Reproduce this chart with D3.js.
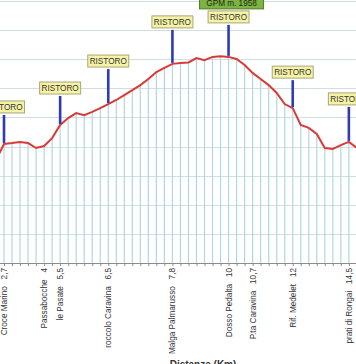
<!DOCTYPE html>
<html><head><meta charset="utf-8">
<script src="https://cdn.jsdelivr.net/npm/d3@7"></script>
<style>
html,body{margin:0;padding:0;background:#fff;}
svg{display:block;font-family:"Liberation Sans",Arial,sans-serif;}
</style></head>
<body><svg id="c" width="356" height="364"></svg>
<script>
// ---- data ----
// elevation (m) of each profile point, from the point just left of Croce Marino to the one after prati di Rongai
const elevation = [1604,1659,1662,1666,1662,1645,1652,1679,1724,1748,1765,1758,1769,1782,1796,1810,1827,1844,1861,1882,1906,1920,1934,1937,1939,1954,1947,1958,1960,1958,1951,1930,1903,1882,1861,1834,1796,1782,1724,1714,1693,1645,1642,1655,1666,1645];
// place names and km for the labelled points (index into elevation)
const placeIndex = [1, 6, 8, 14, 22, 29, 32, 37, 44];
const placeNames = ["Croce Marino", "Passabocche", "le Pasate", "roccolo Caravina", "Malga Palmarusso", "Dosso Pedalta", "P.ta Caravina", "Rif. Medelet", "prati di Rongai"];
const placeKm = ["2,7", "4", "5,5", "6,5", "7,8", "10", "10,7", "12", "14,5"];
// refreshment points
const ristoroIndex = [1, 8, 14, 22, 29, 37, 44];
const ristoroText = "RISTORO";
const gpmIndex = 29;
const gpmText = "GPM m. 1958";
const yTicks = [1250,1350,1450,1550,1650,1750,1850,1950,2050,2150];
const xTitle = "Distanza (Km)";

// ---- layout ----
const svg = d3.select("#c");
const n = elevation.length;
const x = d3.scalePoint().domain(d3.range(n)).range([4 - 8.02, 4 + 8.02 * (n - 2)]);
const y = d3.scaleLinear().domain([1250, 2150]).range([263, 1]);
const stem = [28, 28, 34, 33, 31, 27, 34];

// horizontal grid
svg.append("g").selectAll("line").data(yTicks.slice(1)).join("line")
  .attr("x1", 0).attr("x2", 356)
  .attr("y1", d => Math.round(y(d)) + 0.5).attr("y2", d => Math.round(y(d)) + 0.5)
  .attr("stroke", "#cfdde5").attr("stroke-width", 1);

// drop lines
svg.append("g").selectAll("line").data(d3.range(n)).join("line")
  .attr("x1", i => x(i)).attr("x2", i => x(i))
  .attr("y1", y(1250)).attr("y2", i => y(elevation[i]))
  .attr("stroke", "#b3d6e2").attr("stroke-width", 1.2);

// x axis
const xAxis = d3.axisBottom(x).tickSize(3).tickFormat("");
const gx = svg.append("g").attr("transform", `translate(0,${y(1250)})`).call(xAxis);
gx.select(".domain").attr("stroke", "#8c8c8c");
gx.selectAll(".tick line").attr("stroke", "#8c8c8c");

// profile line
svg.append("path").datum(elevation)
  .attr("d", d3.line().x((d, i) => x(i)).y(d => y(d)))
  .attr("fill", "none").attr("stroke", "#d83a36").attr("stroke-width", 2);

// place labels
svg.append("g").selectAll("text").data(placeIndex).join("text")
  .attr("transform", i => `translate(${x(i) + 3},${y(1250) + 5}) rotate(-90)`)
  .attr("text-anchor", "end")
  .attr("font-size", 8.2).attr("fill", "#333")
  .style("white-space", "pre")
  .text((i, k) => placeNames[k] + "   " + placeKm[k]);

// ristoro markers
const mk = svg.append("g");
ristoroIndex.forEach((i, k) => {
  const yb = y(elevation[i]) - 1;
  const yt = yb - stem[k];
  mk.append("line").attr("x1", x(i)).attr("x2", x(i)).attr("y1", yt).attr("y2", yb)
    .attr("stroke", "#2e3bb5").attr("stroke-width", 2.6);
  mk.append("rect").attr("x", x(i) - 20.5).attr("y", yt - 14).attr("width", 41).attr("height", 12)
    .attr("fill", "#f6f3a6").attr("stroke", "#a9a67a").attr("stroke-width", 1);
  mk.append("text").attr("x", x(i)).attr("y", yt - 5).attr("text-anchor", "middle")
    .attr("font-size", 8.2).attr("fill", "#333").text(ristoroText);
  if (i === gpmIndex) {
    mk.append("rect").attr("x", x(i) - 29).attr("y", yt - 29).attr("width", 64).attr("height", 13)
      .attr("fill", "#7cb342").attr("stroke", "#4f7a2a").attr("stroke-width", 1);
    mk.append("text").attr("x", x(i) + 3).attr("y", yt - 19).attr("text-anchor", "middle")
      .attr("font-size", 8.2).attr("fill", "#1d2a10").text(gpmText);
  }
});

// axis title
svg.append("text").attr("x", 203).attr("y", 368).attr("text-anchor", "middle")
  .attr("font-size", 10).attr("font-weight", "bold").attr("fill", "#333").text(xTitle);
</script></body></html>
